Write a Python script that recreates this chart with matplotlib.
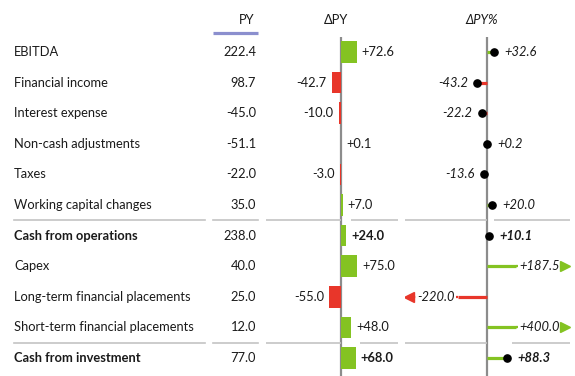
import matplotlib
matplotlib.use("Agg")
import matplotlib.pyplot as plt

# ---------------- data ----------------
labels = ["EBITDA", "Financial income", "Interest expense", "Non-cash adjustments",
          "Taxes", "Working capital changes", "Cash from operations", "Capex",
          "Long-term financial placements", "Short-term financial placements",
          "Cash from investment"]
py = [222.4, 98.7, -45.0, -51.1, -22.0, 35.0, 238.0, 40.0, 25.0, 12.0, 77.0]
dpy = [72.6, -42.7, -10.0, 0.1, -3.0, 7.0, 24.0, 75.0, -55.0, 48.0, 68.0]
dpy_pct = [32.6, -43.2, -22.2, 0.2, -13.6, 20.0, 10.1, 187.5, -220.0, 400.0, 88.3]
bold = [False, False, False, False, False, False, True, False, False, False, True]
headers = ["PY", "ΔPY", "ΔPY%"]

# ---------------- style ----------------
FONT = "Lato"
FS = 9.3
TXT = "#1a1a1a"
GREEN = "#84c322"
RED = "#e8362a"
AXC = "#8c8c8c"
SEPC = "#c4c4c4"
plt.rcParams["font.family"] = [FONT, "DejaVu Sans"]
plt.rcParams["font.size"] = FS

W, H = 575, 376
fig = plt.figure(figsize=(W / 100, H / 100), dpi=100)
fig.patch.set_facecolor("white")

ROW0, PITCH = 52, 30.6
TOP = 37
n = len(labels)
def rowpx(i):
    return ROW0 + PITCH * i

# overlay for table text (pixel coords)
tab = fig.add_axes([0, 0, 1, 1])
tab.set_xlim(0, W); tab.set_ylim(H, 0); tab.axis("off")

for i, (lab, v, b) in enumerate(zip(labels, py, bold)):
    w = "bold" if b else "normal"
    tab.text(14, rowpx(i), lab, ha="left", va="center", color=TXT, fontweight=w)
    tab.text(256, rowpx(i), f"{v:.1f}", ha="right", va="center", color=TXT)

tab.text(255, 20.5, headers[0], ha="right", va="center", color=TXT)
tab.plot([213, 258], [33, 33], color="#8b8fce", lw=2.3, solid_capstyle="butt")
tab.text(336.5, 20.5, headers[1], ha="center", va="center", color=TXT)
tab.text(482, 20.5, headers[2], ha="center", va="center", color=TXT, style="italic")

for i, b in enumerate(bold):
    if b:
        y = (rowpx(i) + rowpx(i - 1)) / 2
        tab.plot([14, 205], [y, y], color=SEPC, lw=1.2)
        tab.plot([213, 258], [y, y], color=SEPC, lw=1.2)

ylim = ((H - ROW0) / PITCH, (TOP - ROW0) / PITCH)

# ---------------- ΔPY bars ----------------
S1, Z1 = 0.215, 341
ax1 = fig.add_axes([266 / W, 0, (398 - 266) / W, (H - TOP) / H])
ax1.set_xlim((266 - Z1) / S1, (398 - Z1) / S1)
ax1.set_ylim(*ylim)
ax1.axis("off")
ax1.axvline(0, color=AXC, lw=1.6, zorder=2)
ax1.barh(range(n), dpy, height=0.71, color=[GREEN if v > 0 else RED for v in dpy], zorder=3)
for i, (v, b) in enumerate(zip(dpy, bold)):
    off = 3.6 if v >= 0 else -3.6
    ax1.annotate(f"{v:+.1f}", xy=(v, i), xytext=(off, 0), textcoords="offset points",
                 ha="left" if v >= 0 else "right", va="center", color=TXT,
                 fontweight="bold" if b else "normal")
    if b:
        y = i - 0.5
        x0, x1 = ax1.get_xlim()
        ax1.hlines(y, x0, 0, color=SEPC, lw=1.2)
        ax1.hlines(y, max(v, 0) + 4.5 / S1, x1, color=SEPC, lw=1.2)

# ---------------- ΔPY% pins ----------------
S2, Z2 = 0.23, 487
ax2 = fig.add_axes([405 / W, 0, (570 - 405) / W, (H - TOP) / H])
ax2.set_xlim((405 - Z2) / S2, (570 - Z2) / S2)
ax2.set_ylim(*ylim)
ax2.axis("off")
ax2.axvline(0, color=AXC, lw=1.6, zorder=2)
CAP = 29 / S2
EDGE = 78 / S2
for i, (v, b) in enumerate(zip(dpy_pct, bold)):
    c = GREEN if v > 0 else RED
    w = "bold" if b else "normal"
    sgn = 1 if v >= 0 else -1
    if abs(v) <= CAP:
        ax2.plot([0, v], [i, i], color=c, lw=2.3, solid_capstyle="butt", zorder=3)
        ax2.plot([v], [i], marker="o", ms=5.2, color="black", zorder=5)
        ax2.annotate(f"{v:+.1f}", xy=(v, i), xytext=(7.4 if sgn > 0 else -6.6, 0),
                     textcoords="offset points", ha="left" if sgn > 0 else "right",
                     va="center", color=TXT, style="italic", fontweight=w)
        end = max(v, 0) + 4.5 / S2
    else:
        cv = sgn * CAP
        ax2.plot([0, cv], [i, i], color=c, lw=2.3, solid_capstyle="butt", zorder=3)
        ax2.plot([cv, sgn * EDGE], [i, i], color=c, lw=1.6, ls=(0, (1.5, 2.0)), zorder=1)
        ax2.plot([sgn * EDGE], [i], marker=">" if sgn > 0 else "<", ms=6.5, color=c, zorder=4)
        ax2.annotate(f"{v:+.1f}", xy=(cv, i), xytext=(2.2 * sgn, 0),
                     textcoords="offset points", ha="left" if sgn > 0 else "right",
                     va="center", color=TXT, style="italic", fontweight=w,
                     bbox=dict(boxstyle="square,pad=0.1", fc="white", ec="none"), zorder=3)
        end = max(cv, 0) + 4.5 / S2
    if b:
        y = i - 0.5
        x0, x1 = ax2.get_xlim()
        ax2.hlines(y, x0, 0, color=SEPC, lw=1.2)
        ax2.hlines(y, end, x1, color=SEPC, lw=1.2)

fig.savefig("out.png", dpi=100, facecolor="white")
